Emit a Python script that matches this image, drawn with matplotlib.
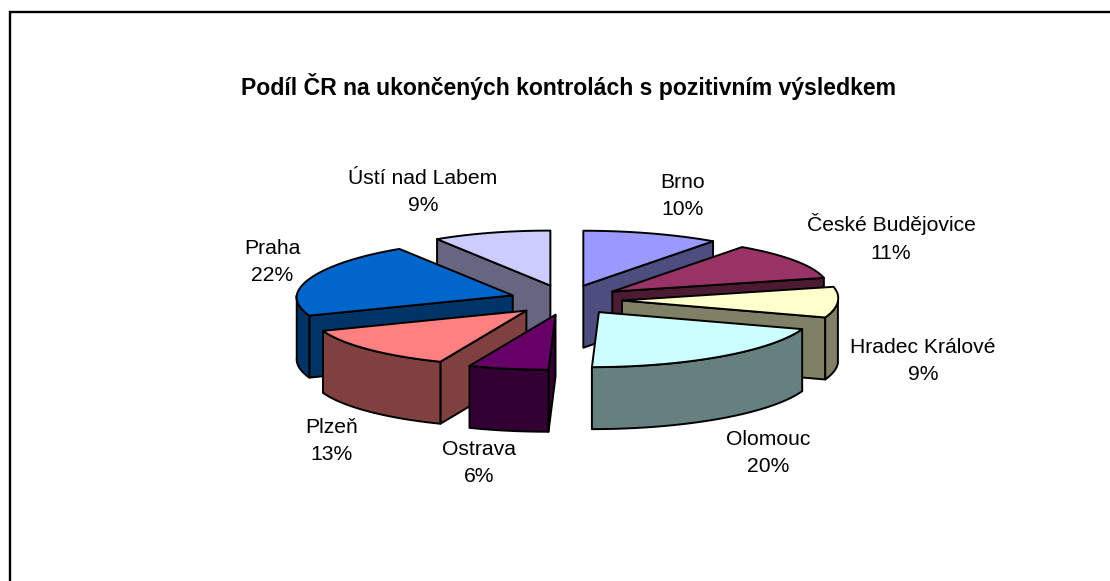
import numpy as np
import matplotlib
matplotlib.use("Agg")
import matplotlib.pyplot as plt
from matplotlib.colors import to_rgb
from matplotlib.patches import Polygon

plt.rcParams['font.family'] = ['Liberation Sans', 'DejaVu Sans']

title = "Podíl ČR na ukončených kontrolách s pozitivním výsledkem"
regions = ["Brno", "České Budějovice", "Hradec Králové", "Olomouc",
           "Ostrava", "Plzeň", "Praha", "Ústí nad Labem"]
shares = [10, 11, 9, 20, 6, 13, 22, 9]
colors = ["#9999FF", "#993366", "#FFFFCC", "#CCFFFF",
          "#660066", "#FF8080", "#0066CC", "#CCCCFF"]

# layout, in pixels of the picture
cx, cy = 566, 300
rx, ry = 216, 55
ex, ey = 56, 15
depth = 62
label_pos = [(683, 196), (891, 238), (923, 361), (768, 453),
             (479, 463), (332, 441), (272, 262), (423, 192)]
# back wedges first, the front ones paint over them
draw_order = [7, 0, 6, 1, 2, 5, 4, 3]

fig = plt.figure(figsize=(11.10, 5.81), dpi=100)
ax = fig.add_axes([0, 0, 1, 1])
ax.set_xlim(0, 1110)
ax.set_ylim(581, 0)
ax.axis("off")

# frame runs off the page on the right and at the bottom
ax.plot([10, 10, 1115], [590, 12, 12], color="black", lw=1.7,
        solid_joinstyle="miter")

ax.text(568.5, 87, title, fontsize=16.6, fontweight="bold", ha="center", va="center")


def darker(c):
    r, g, b = to_rgb(c)
    return (r / 2, g / 2, b / 2)


def add_poly(pts, color, z):
    ax.add_patch(Polygon(pts, closed=True, facecolor=color, edgecolor="black",
                         lw=1.4, joinstyle="round", zorder=z))


def rim_x(t):
    # the pie leans a little, the front rim sits further left than the back
    c = np.cos(t)
    s = np.sin(t)
    return rx * s + np.where(c < 0, 7 * c, 10 * s * s * c)


def wall_shows(ax_x, ax_y, px, py, mx, my):
    # a straight wall shows when the top face lies above its edge on screen
    ux, uy = px - ax_x, py - ax_y
    inside = ux * (my - ax_y) - uy * (mx - ax_x)
    below = ux
    return inside * below < 0


def draw_wedge(a0, a1, color, z):
    mid = (a0 + a1) / 2
    ax_x = cx + ex * np.sin(mid)
    ax_y = cy - ey * np.cos(mid)
    t = np.linspace(a0, a1, 60)
    xs = ax_x + rim_x(t)
    ys = ax_y - ry * np.cos(t)
    mx, my = xs[30], ys[30]
    side = darker(color)

    for px, py in [(xs[0], ys[0]), (xs[-1], ys[-1])]:
        if wall_shows(ax_x, ax_y, px, py, mx, my):
            add_poly([(ax_x, ax_y), (px, py), (px, py + depth), (ax_x, ax_y + depth)], side, z)

    # outer wall, front half of the rim only
    front = (t >= np.pi / 2) & (t <= 3 * np.pi / 2)
    if front.any():
        fx, fy = xs[front], ys[front]
        rim = list(zip(fx, fy)) + list(zip(fx[::-1], fy[::-1] + depth))
        add_poly(rim, side, z + 0.1)

    add_poly([(ax_x, ax_y)] + list(zip(xs, ys)), color, z + 0.2)


edges = np.deg2rad(np.cumsum([0] + shares) * 3.6)
for n, i in enumerate(draw_order):
    draw_wedge(edges[i], edges[i + 1], colors[i], 2 + n)

for name, val, (lx, ly) in zip(regions, shares, label_pos):
    ax.text(lx, ly, f"{name}\n{val}%", fontsize=15.2, ha="center", va="center",
            linespacing=1.55, zorder=30)

fig.savefig("out.png", dpi=100)
